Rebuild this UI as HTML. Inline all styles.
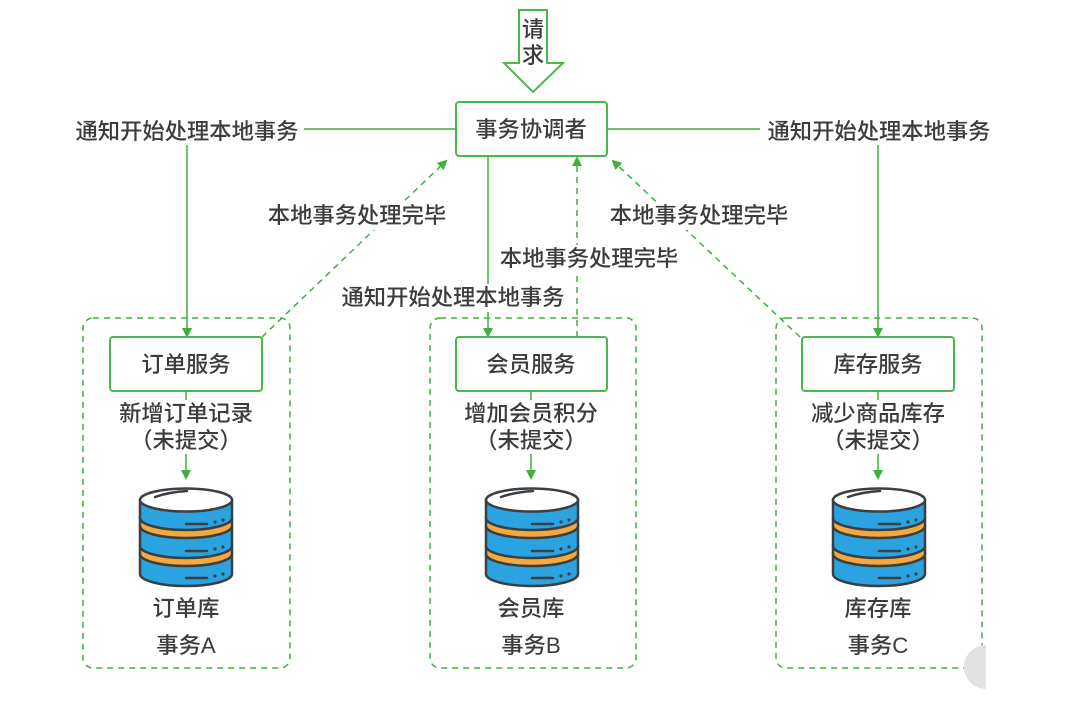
<!DOCTYPE html>
<html><head><meta charset="utf-8"><style>
html,body{margin:0;padding:0;background:#fff;}
svg{display:block;}
text{font-family:"Liberation Sans","Noto Sans CJK SC",sans-serif;font-size:22.3px;font-weight:500;fill:#3c3c3c;text-anchor:middle;}
</style></head><body>
<svg width="1080" height="706" viewBox="0 0 1080 706" xmlns="http://www.w3.org/2000/svg">
<defs>
<marker id="ah" markerWidth="10" markerHeight="10" refX="8" refY="5" orient="auto" markerUnits="userSpaceOnUse">
<path d="M0,0 L10,5 L0,10 z" fill="#3db03d"/>
</marker>
<g id="db" stroke="#3a3f44" stroke-width="2.5">
<path d="M1,66 L1,86 A46,12 0 0 0 93,86 L93,66 Z" fill="#2aa3e0"/>
<path d="M1,58 L1,66 A46,12 0 0 0 93,66 L93,58 Z" fill="#f5a83c"/>
<path d="M1,38 L1,58 A46,12 0 0 0 93,58 L93,38 Z" fill="#2aa3e0"/>
<path d="M1,30 L1,38 A46,12 0 0 0 93,38 L93,30 Z" fill="#f5a83c"/>
<path d="M1,12 L1,30 A46,12 0 0 0 93,30 L93,12 Z" fill="#2aa3e0"/>
<ellipse cx="47" cy="12" rx="46" ry="11.5" fill="#fff"/>
<path d="M16,9 Q30,4 48,3" fill="none" stroke-linecap="round"/>
<path d="M47,36 H68 M47,63 H68 M47,90 H68" fill="none" stroke-linecap="round"/>
<circle cx="76" cy="34" r="1.6" fill="#3a3f44" stroke="none"/><circle cx="84" cy="32" r="1.6" fill="#3a3f44" stroke="none"/>
<circle cx="76" cy="61" r="1.6" fill="#3a3f44" stroke="none"/><circle cx="84" cy="59" r="1.6" fill="#3a3f44" stroke="none"/>
<circle cx="76" cy="88" r="1.6" fill="#3a3f44" stroke="none"/><circle cx="84" cy="86" r="1.6" fill="#3a3f44" stroke="none"/>
</g>
</defs>

<path d="M519,10 H547 V63 H563 L533,92 L504,63 H519 Z" fill="#fff" stroke="#4cb84c" stroke-width="2"/>
<text x="533" y="37">请</text>
<text x="533" y="63">求</text>

<rect x="456" y="102" width="151" height="54" rx="3" fill="#fff" stroke="#4cb84c" stroke-width="2"/>
<text x="531" y="137">事务协调者</text>

<g stroke="#3db03d" stroke-width="1.5" fill="none">
<line x1="304" y1="129" x2="456" y2="129"/>
<line x1="607" y1="129" x2="760" y2="129"/>
<line x1="187" y1="145" x2="187" y2="336" marker-end="url(#ah)"/>
<line x1="878" y1="145" x2="878" y2="336" marker-end="url(#ah)"/>
<line x1="488" y1="156" x2="488" y2="336" marker-end="url(#ah)"/>
<g stroke-dasharray="6,5">
<line x1="262" y1="337" x2="446" y2="161" marker-end="url(#ah)"/>
<line x1="577" y1="337" x2="577" y2="158" marker-end="url(#ah)"/>
<line x1="800" y1="337" x2="613" y2="161" marker-end="url(#ah)"/>
<rect x="83" y="318" width="207" height="350" rx="10"/>
<rect x="430" y="318" width="206" height="350" rx="10"/>
<rect x="776" y="318" width="206" height="350" rx="10"/>
</g>
</g>

<text x="187" y="139">通知开始处理本地事务</text>
<text x="879" y="139">通知开始处理本地事务</text>
<rect x="268" y="202" width="178" height="28" fill="#fff"/>
<text x="357" y="223">本地事务处理完毕</text>
<rect x="602" y="202" width="194" height="28" fill="#fff"/>
<text x="699" y="223">本地事务处理完毕</text>
<rect x="492" y="245" width="194" height="28" fill="#fff"/>
<text x="589" y="266">本地事务处理完毕</text>
<rect x="333" y="284" width="240" height="28" fill="#fff"/>
<text x="453" y="305">通知开始处理本地事务</text>

<g stroke="#4cb84c" stroke-width="2" fill="#fff">
<rect x="110" y="337" width="152" height="54" rx="3"/>
<rect x="456" y="337" width="151" height="54" rx="3"/>
<rect x="802" y="337" width="152" height="54" rx="3"/>
</g>
<text x="186" y="372">订单服务</text>
<text x="531" y="372">会员服务</text>
<text x="878" y="372">库存服务</text>

<g stroke="#3db03d" stroke-width="1.5">
<line x1="186" y1="391" x2="186" y2="400"/><line x1="531" y1="391" x2="531" y2="400"/><line x1="878" y1="391" x2="878" y2="400"/>
<line x1="186" y1="454" x2="186" y2="478" marker-end="url(#ah)"/>
<line x1="531" y1="454" x2="531" y2="478" marker-end="url(#ah)"/>
<line x1="878" y1="454" x2="878" y2="478" marker-end="url(#ah)"/>
</g>
<text x="186" y="421">新增订单记录</text><text x="186" y="448">（未提交）</text>
<text x="531" y="421">增加会员积分</text><text x="531" y="448">（未提交）</text>
<text x="878" y="421">减少商品库存</text><text x="878" y="448">（未提交）</text>

<use href="#db" x="139" y="488"/>
<use href="#db" x="485" y="488"/>
<use href="#db" x="832" y="488"/>

<text x="186" y="616">订单库</text><text x="186" y="653">事务A</text>
<text x="531" y="616">会员库</text><text x="531" y="653">事务B</text>
<text x="878" y="616">库存库</text><text x="878" y="653">事务C</text>

<path d="M986,645 A22,22 0 0 0 986,689 Z" fill="#e2e2e2"/>
</svg>
</body></html>
